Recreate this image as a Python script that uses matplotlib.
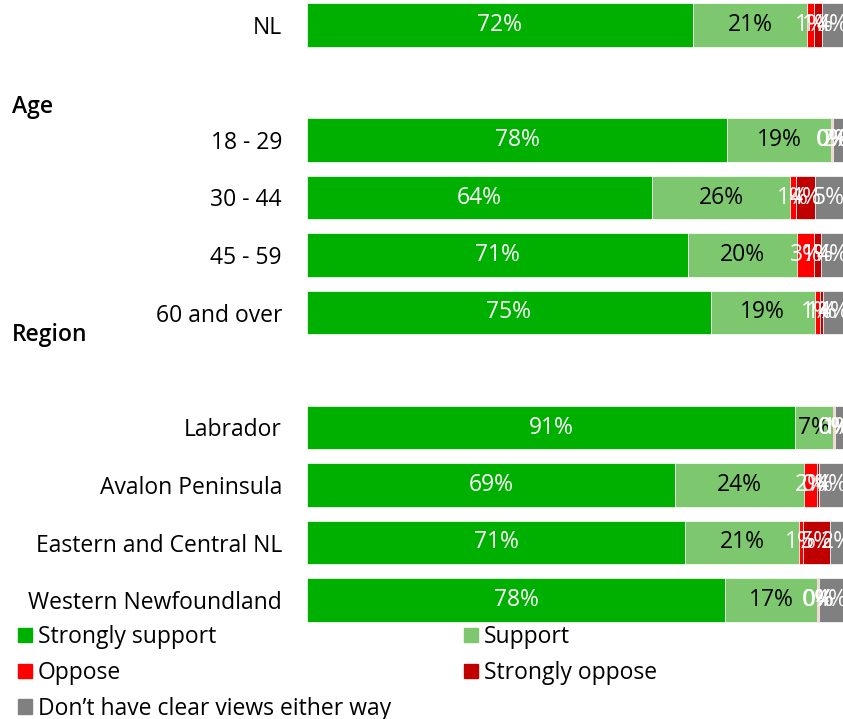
import numpy as np
import matplotlib.pyplot as plt
from matplotlib.patches import Patch

plt.rcParams['font.family'] = ['Open Sans', 'DejaVu Sans']

# rows of the chart (blank rows keep the gaps between groups)
labels = ['NL', '', '18 - 29', '30 - 44', '45 - 59', '60 and over', '',
          'Labrador', 'Avalon Peninsula', 'Eastern and Central NL', 'Western Newfoundland']

strongly_support = [72.0, 0, 78.4, 64.4, 71.0, 75.3, 0, 91.0, 68.6, 70.6, 78.0]
support          = [21.3, 0, 19.4, 25.8, 20.4, 19.4, 0, 7.2, 24.2, 21.2, 17.2]
oppose           = [1.3, 0, 0.2, 1.0, 3.2, 1.0, 0, 0.2, 2.4, 0.8, 0.2]
strongly_oppose  = [1.4, 0, 0.2, 3.5, 1.3, 0.6, 0, 0.2, 0.4, 5.0, 0.2]
dont_know        = [4.0, 0, 1.8, 5.3, 4.1, 3.7, 0, 1.4, 4.4, 2.4, 4.4]

series = ['Strongly support', 'Support', 'Oppose', 'Strongly oppose',
          'Don\u2019t have clear views either way']
colors = ['#00B000', '#7DC86E', '#FF0000', '#C00000', '#808080']
text_colors = ['white', 'black', 'white', 'white', 'white']
fs = 16.5

fig = plt.figure(figsize=(8.43, 7.19), dpi=100)
ax = fig.add_axes([307 / 843, 1 - 628.75 / 719, 1 - 307 / 843, (628.75 + 3.75) / 719])

data = np.array([strongly_support, support, oppose, strongly_oppose, dont_know])
y = np.arange(len(labels))
left = np.zeros(len(labels))
for vals, name, c, tc in zip(data, series, colors, text_colors):
    ax.barh(y, vals, left=left, height=0.75, color=c, edgecolor='white',
            linewidth=0.5, label=name)
    for yi, v, l in zip(y, vals, left):
        if labels[yi] == '':
            continue
        ax.text(l + v / 2, yi, f'{v:.0f}%', ha='center', va='center',
                color=tc, fontsize=fs, clip_on=False)
    left += vals

ax.set_xlim(0, 100)
ax.set_ylim(len(labels) - 0.5, -0.5)
ax.set_yticks(y)
ax.set_yticklabels(labels, fontsize=fs)
ax.tick_params(axis='y', length=0, pad=18)
ax.set_xticks([])
for s in ax.spines.values():
    s.set_visible(False)

fig.text(12 / 843, 1 - 107 / 719, 'Age', fontsize=fs, fontweight='semibold', va='center')
fig.text(12 / 843, 1 - 335 / 719, 'Region', fontsize=fs, fontweight='semibold', va='center')

handles = [Patch(color=c) for c in colors]
order = [0, 2, 4, 1, 3]
fig.legend([handles[i] for i in order], [series[i] for i in order],
           ncol=2, loc='upper left', bbox_to_anchor=(18 / 843, 1 - 625 / 719),
           frameon=False, fontsize=fs, handlelength=0.6, handleheight=0.6,
           handletextpad=0.26, columnspacing=3.2, labelspacing=0.52,
           borderaxespad=0, borderpad=0)

fig.savefig('out.png', dpi=100)
